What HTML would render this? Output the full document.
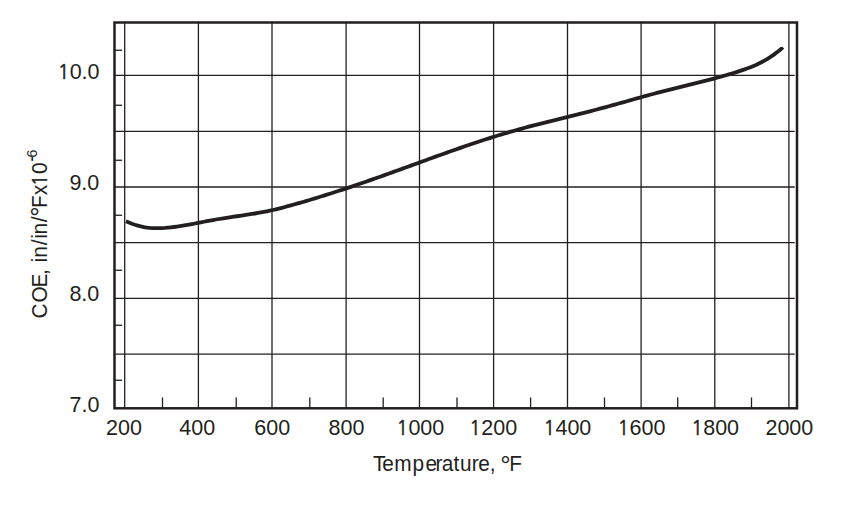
<!DOCTYPE html>
<html><head><meta charset="utf-8"><style>
html,body{margin:0;padding:0;background:#fff;}
svg{display:block;}
svg{font-size:21.5px;}
text{font-family:"Liberation Sans",Arial,sans-serif;fill:#231f20;}
.one{font-family:"NanumGothic","Liberation Sans",sans-serif;stroke:#231f20;stroke-width:0.5px;}
</style></head><body>
<svg width="859" height="510" viewBox="0 0 859 510">
<rect width="859" height="510" fill="#fff"/>
<g stroke="#231f20" stroke-width="1.3" fill="none">
<line x1="124.70" y1="22.50" x2="124.70" y2="408.30"/>
<line x1="198.40" y1="22.50" x2="198.40" y2="408.30"/>
<line x1="272.00" y1="22.50" x2="272.00" y2="408.30"/>
<line x1="346.10" y1="22.50" x2="346.10" y2="408.30"/>
<line x1="419.50" y1="22.50" x2="419.50" y2="408.30"/>
<line x1="493.60" y1="22.50" x2="493.60" y2="408.30"/>
<line x1="567.50" y1="22.50" x2="567.50" y2="408.30"/>
<line x1="641.10" y1="22.50" x2="641.10" y2="408.30"/>
<line x1="714.80" y1="22.50" x2="714.80" y2="408.30"/>
<line x1="788.90" y1="22.50" x2="788.90" y2="408.30"/>
<line x1="114.50" y1="75.40" x2="794.70" y2="75.40"/>
<line x1="114.50" y1="131.30" x2="794.70" y2="131.30"/>
<line x1="114.50" y1="187.00" x2="794.70" y2="187.00"/>
<line x1="114.50" y1="242.65" x2="794.70" y2="242.65"/>
<line x1="114.50" y1="298.40" x2="794.70" y2="298.40"/>
<line x1="114.50" y1="354.20" x2="794.70" y2="354.20"/>
<line x1="114.50" y1="50.25" x2="122.10" y2="50.25"/>
<line x1="114.50" y1="105.25" x2="122.10" y2="105.25"/>
<line x1="114.50" y1="160.25" x2="122.10" y2="160.25"/>
<line x1="114.50" y1="215.25" x2="122.10" y2="215.25"/>
<line x1="114.50" y1="270.25" x2="122.10" y2="270.25"/>
<line x1="114.50" y1="325.25" x2="122.10" y2="325.25"/>
<line x1="114.50" y1="380.25" x2="122.10" y2="380.25"/>
<line x1="162.50" y1="397.50" x2="162.50" y2="408.30"/>
<line x1="236.20" y1="397.50" x2="236.20" y2="408.30"/>
<line x1="309.80" y1="397.50" x2="309.80" y2="408.30"/>
<line x1="383.20" y1="397.50" x2="383.20" y2="408.30"/>
<line x1="457.00" y1="397.50" x2="457.00" y2="408.30"/>
<line x1="530.60" y1="397.50" x2="530.60" y2="408.30"/>
<line x1="604.50" y1="397.50" x2="604.50" y2="408.30"/>
<line x1="677.70" y1="397.50" x2="677.70" y2="408.30"/>
<line x1="751.50" y1="397.50" x2="751.50" y2="408.30"/>
</g>
<rect x="114.5" y="22.5" width="682.50" height="385.80" fill="none" stroke="#231f20" stroke-width="2.5"/>
<path d="M125.9 221.36 L128.9 222.57 L131.9 223.69 L134.9 224.71 L137.9 225.62 L140.9 226.41 L143.9 227.06 L146.9 227.57 L149.9 227.93 L152.9 228.14 L155.9 228.22 L158.9 228.19 L161.9 228.08 L164.9 227.90 L167.9 227.65 L170.9 227.35 L173.9 226.99 L176.9 226.59 L179.9 226.15 L182.9 225.67 L185.9 225.16 L188.9 224.63 L191.9 224.07 L194.9 223.50 L197.9 222.91 L200.9 222.33 L203.9 221.74 L206.9 221.16 L209.9 220.59 L212.9 220.04 L215.9 219.50 L218.9 219.00 L221.9 218.51 L224.9 218.04 L227.9 217.58 L230.9 217.13 L233.9 216.69 L236.9 216.25 L239.9 215.81 L242.9 215.37 L245.9 214.92 L248.9 214.47 L251.9 213.99 L254.9 213.50 L257.9 212.99 L260.9 212.46 L263.9 211.90 L266.9 211.30 L269.9 210.68 L272.9 210.01 L275.9 209.31 L278.9 208.57 L281.9 207.80 L284.9 207.01 L287.9 206.20 L290.9 205.38 L293.9 204.54 L296.9 203.69 L299.9 202.84 L302.9 201.97 L305.9 201.09 L308.9 200.20 L311.9 199.30 L314.9 198.39 L317.9 197.48 L320.9 196.55 L323.9 195.61 L326.9 194.67 L329.9 193.72 L332.9 192.76 L335.9 191.79 L338.9 190.81 L341.9 189.83 L344.9 188.84 L347.9 187.84 L350.9 186.83 L353.9 185.82 L356.9 184.80 L359.9 183.78 L362.9 182.74 L365.9 181.71 L368.9 180.67 L371.9 179.62 L374.9 178.57 L377.9 177.51 L380.9 176.45 L383.9 175.38 L386.9 174.31 L389.9 173.23 L392.9 172.16 L395.9 171.07 L398.9 169.99 L401.9 168.90 L404.9 167.81 L407.9 166.72 L410.9 165.63 L413.9 164.54 L416.9 163.45 L419.9 162.35 L422.9 161.26 L425.9 160.17 L428.9 159.08 L431.9 158.00 L434.9 156.91 L437.9 155.83 L440.9 154.75 L443.9 153.68 L446.9 152.61 L449.9 151.54 L452.9 150.48 L455.9 149.43 L458.9 148.38 L461.9 147.34 L464.9 146.31 L467.9 145.28 L470.9 144.26 L473.9 143.25 L476.9 142.25 L479.9 141.25 L482.9 140.27 L485.9 139.30 L488.9 138.33 L491.9 137.38 L494.9 136.44 L497.9 135.51 L500.9 134.60 L503.9 133.70 L506.9 132.81 L509.9 131.93 L512.9 131.07 L515.9 130.22 L518.9 129.38 L521.9 128.56 L524.9 127.75 L527.9 126.94 L530.9 126.15 L533.9 125.36 L536.9 124.59 L539.9 123.82 L542.9 123.05 L545.9 122.30 L548.9 121.54 L551.9 120.79 L554.9 120.05 L557.9 119.30 L560.9 118.56 L563.9 117.82 L566.9 117.07 L569.9 116.33 L572.9 115.59 L575.9 114.84 L578.9 114.09 L581.9 113.33 L584.9 112.57 L587.9 111.81 L590.9 111.04 L593.9 110.26 L596.9 109.47 L599.9 108.68 L602.9 107.87 L605.9 107.06 L608.9 106.24 L611.9 105.41 L614.9 104.57 L617.9 103.74 L620.9 102.90 L623.9 102.05 L626.9 101.21 L629.9 100.36 L632.9 99.52 L635.9 98.68 L638.9 97.84 L641.9 97.00 L644.9 96.18 L647.9 95.35 L650.9 94.54 L653.9 93.73 L656.9 92.93 L659.9 92.14 L662.9 91.36 L665.9 90.60 L668.9 89.84 L671.9 89.09 L674.9 88.35 L677.9 87.61 L680.9 86.87 L683.9 86.13 L686.9 85.40 L689.9 84.67 L692.9 83.93 L695.9 83.19 L698.9 82.44 L701.9 81.69 L704.9 80.93 L707.9 80.16 L710.9 79.38 L713.9 78.59 L716.9 77.78 L719.9 76.96 L722.9 76.12 L725.9 75.27 L728.9 74.40 L731.9 73.51 L734.9 72.59 L737.9 71.65 L740.9 70.68 L743.9 69.66 L746.9 68.59 L749.9 67.44 L752.9 66.22 L755.9 64.91 L758.9 63.50 L761.9 61.98 L764.9 60.34 L767.9 58.56 L770.9 56.65 L773.9 54.58 L776.9 52.36 L779.9 49.96 L782.9 47.39 L783.0 47.30" fill="none" stroke="#231f20" stroke-width="3.8"/>
<text y="78.70"><tspan x="57.70" class="one" font-size="19.2">1</tspan><tspan x="69.66">0.0</tspan></text>
<text y="189.80"><tspan x="69.40">9.0</tspan></text>
<text y="300.70"><tspan x="69.40">8.0</tspan></text>
<text y="411.60"><tspan x="69.50">7.0</tspan></text>
<text y="434.80"><tspan x="106.04">200</tspan></text>
<text y="434.80"><tspan x="179.34">400</tspan></text>
<text y="434.80"><tspan x="254.29">600</tspan></text>
<text y="434.80"><tspan x="328.57">800</tspan></text>
<text y="434.80"><tspan x="396.43" class="one" font-size="19.2">1</tspan><tspan x="408.39">000</tspan></text>
<text y="434.80"><tspan x="469.28" class="one" font-size="19.2">1</tspan><tspan x="481.24">200</tspan></text>
<text y="434.80"><tspan x="543.48" class="one" font-size="19.2">1</tspan><tspan x="555.44">400</tspan></text>
<text y="434.80"><tspan x="617.53" class="one" font-size="19.2">1</tspan><tspan x="629.49">600</tspan></text>
<text y="434.80"><tspan x="691.23" class="one" font-size="19.2">1</tspan><tspan x="703.19">800</tspan></text>
<text y="434.80"><tspan x="765.46">2000</tspan></text>
<g transform="translate(0 471.00) scale(1 1.090)"><text x="372.90 382.19 394.28 412.53 425.44 435.52 441.82 453.58 460.08 471.67 478.24 489.81" y="0" font-size="20.80">Temperature,</text><text x="500.26" y="3.60" font-size="26.00">°</text><text x="509.26" y="0" font-size="20.80">F</text></g>
<g transform="translate(47.10 318.50) rotate(-90) scale(1 1.085)"><text x="0.01 16.02 31.06 43.51 49.29 55.89 60.80 73.16 79.64 84.05 96.26" y="0" font-size="20.80">COE, in/in/</text><text x="101.86" y="3.00" font-size="26.00">°</text><text y="0" font-size="20.80"><tspan x="110.51 123.14">Fx</tspan><tspan x="132.49" class="one" font-size="18.61">1</tspan><tspan x="144.62">0</tspan></text><text x="156.75" y="-7.94" font-size="18.00">-</text><text x="161.11" y="-9.00" font-size="14.00">6</text></g>
</svg>
</body></html>
